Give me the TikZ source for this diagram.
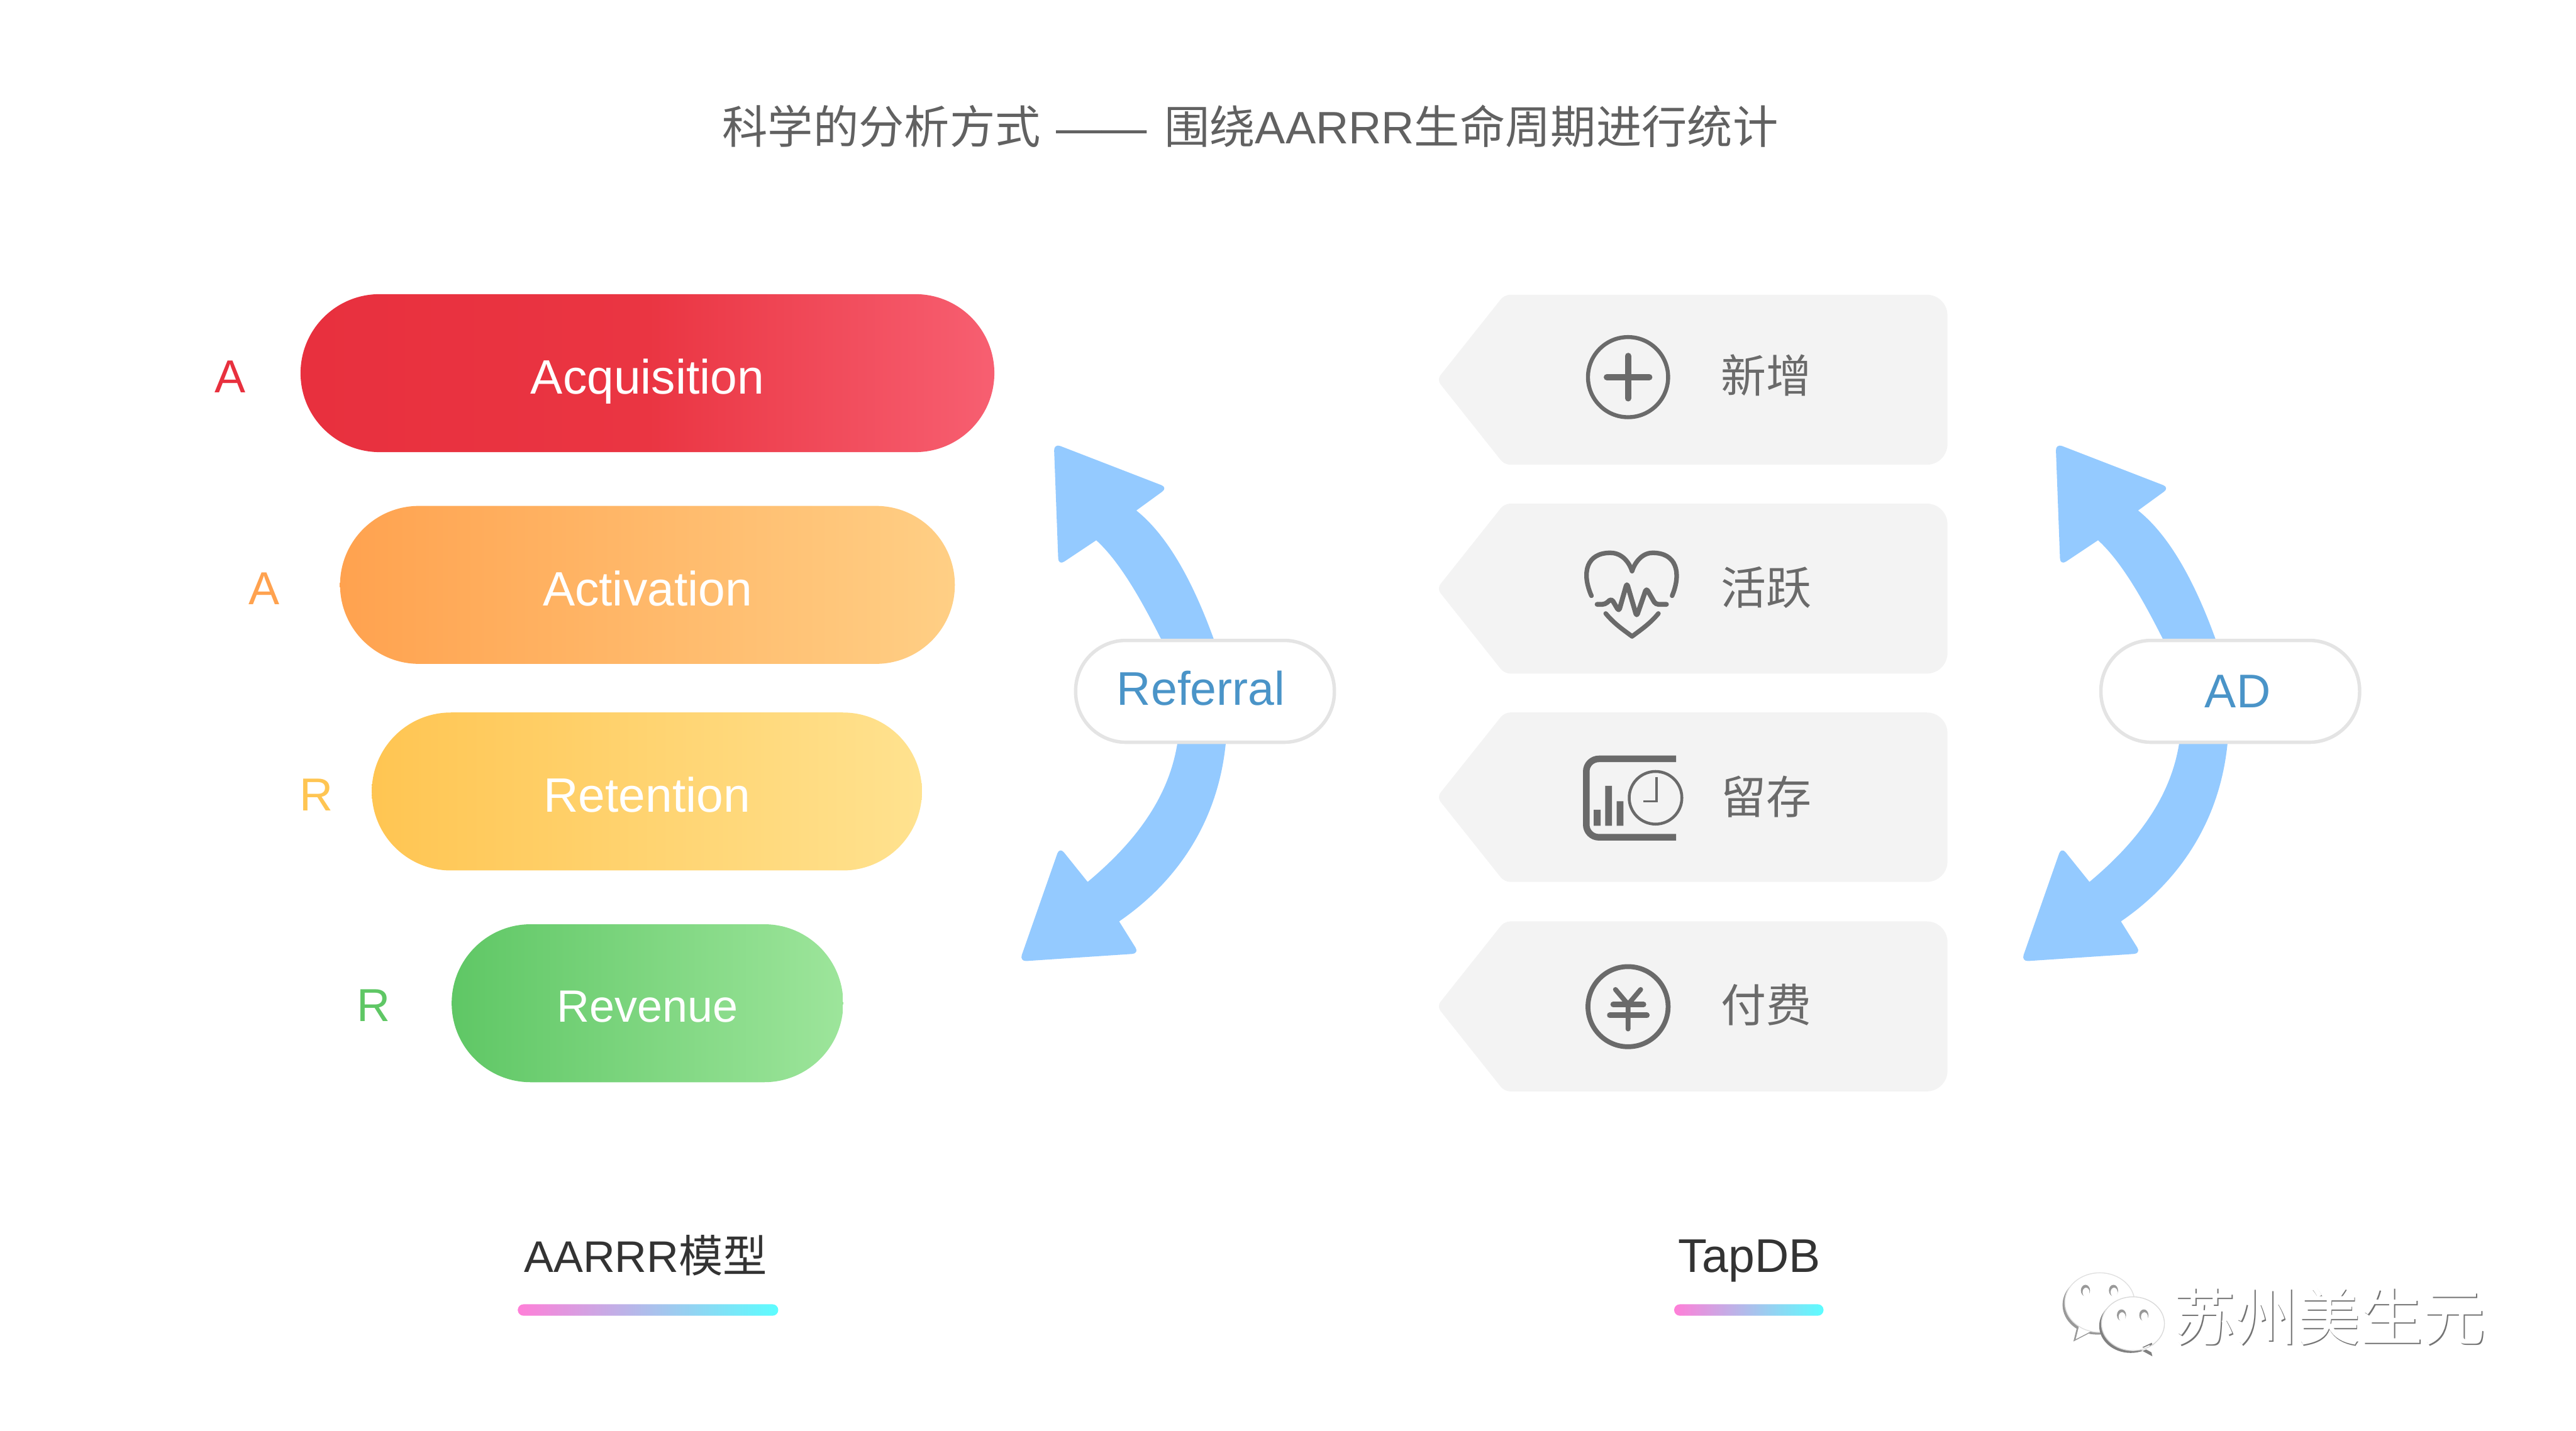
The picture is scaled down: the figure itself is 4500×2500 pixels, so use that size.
\documentclass[tikz,border=0pt]{standalone}
\usepackage{fontspec}
\setmainfont{Liberation Sans}
\newfontfamily\cjk{Noto Sans CJK SC}
\definecolor{acqred}{HTML}{E8303E}
\definecolor{acqmid}{HTML}{EA3542}
\definecolor{acqend}{HTML}{F75F71}
\definecolor{actleft}{HTML}{FFA24F}
\definecolor{actright}{HTML}{FFCF85}
\definecolor{retleft}{HTML}{FFC552}
\definecolor{retright}{HTML}{FFE28F}
\definecolor{revleft}{HTML}{5FC765}
\definecolor{revright}{HTML}{9DE59B}
\definecolor{swooshblue}{HTML}{94CAFF}
\definecolor{pillline}{HTML}{E4E4E4}
\definecolor{referblue}{HTML}{4A94C8}
\definecolor{tagbox}{HTML}{F3F3F3}
\definecolor{icongray}{HTML}{6A6A6A}
\definecolor{barpink}{HTML}{FF7FD8}
\definecolor{barcyan}{HTML}{5CFDFF}

\begin{document}
\begin{tikzpicture}[x=0.1mm,y=-0.1mm]
    \tikzstyle{every node}=[inner sep=0pt]
    \tikzstyle{big}=[font=\fontsize{24}{28}\selectfont]
    \tikzstyle{pill}=[big,text=white,rounded corners=13.8mm,minimum height=27.6mm,text height=7.2mm,text depth=0mm]
    \tikzstyle{letter}=[font=\fontsize{23}{28}\selectfont]
    \tikzstyle{tagtext}=[font=\cjk\fontsize{22.5}{28}\selectfont,text=icongray]
    \tikzstyle{cycletag}=[font=\fontsize{23.5}{28}\selectfont,text=referblue,fill=white,draw=pillline,line width=0.6mm,rounded corners=8.8mm,minimum width=45.2mm,minimum height=17.8mm]
    \tikzstyle{caption}=[font=\fontsize{22.5}{28}\selectfont,text=black!80,text height=7mm,text depth=0.95mm]
    \tikzstyle{underbar}=[left color=barpink,right color=barcyan,rounded corners=1mm,minimum height=2mm]
    \tikzstyle{icon}=[draw=icongray,line width=0.7mm,line cap=round,line join=round]
    \useasboundingbox (0,0) rectangle (4500,2500);

    \node[font=\fontsize{22.6}{28}\selectfont,text=black!62] (title) at (2184,221)
      {{\cjk 科学的分析方式}\hspace{0.5mm} —— \hspace{0.8mm}{\cjk 围绕}AARRR{\cjk 生命周期进行统计}};

    \node[pill,left color=acqred,right color=acqend,middle color=acqmid,minimum width=121.2mm] (acquisition) at (1131,652) {Acquisition};
    \node[pill,left color=actleft,right color=actright,minimum width=107.4mm] (activation) at (1131,1022) {Activation};
    \node[pill,left color=retleft,right color=retright,minimum width=96.1mm] (retention) at (1130,1383) {Retention};
    \node[pill,left color=revleft,right color=revright,minimum width=68.4mm,font=\fontsize{22.5}{28}\selectfont,text height=6.6mm] (revenue) at (1131,1753) {Revenue};

    \node[letter,text=acqred] (acqletter) at (402,658) {A};
    \node[letter,text=actleft] (actletter) at (461,1028) {A};
    \node[letter,text=retleft] (retletter) at (553,1389) {R};
    \node[letter,text=revleft] (revletter) at (653,1757) {R};

    \foreach \dx in {0,1750} {
      \begin{scope}[shift={(\dx,0)}]
        \fill[swooshblue] (1915,944) [rounded corners=1.2mm] -- (1849,988) -- (1841,775) -- (2040,852)
          [sharp corners] -- (1985,892) .. controls (2045,940) and (2090,1030) .. (2125,1130)
          -- (2035,1130) .. controls (2000,1060) and (1960,985) .. (1915,944) -- cycle;
        \fill[swooshblue] (1900,1541) [rounded corners=1.2mm] -- (1851,1480) -- (1781,1680) -- (1990,1666)
          [sharp corners] -- (1955,1610) .. controls (2050,1545) and (2130,1440) .. (2142,1290)
          -- (2058,1290) .. controls (2045,1390) and (1985,1470) .. (1900,1541) -- cycle;
      \end{scope}
    }
    \node[cycletag,text depth=1.2mm] (referral) at (2105,1208) {Referral\kern1.4mm};
    \node[cycletag] (ad) at (3896,1208) {\hspace{2.6mm}AD};

    \foreach \yt/\yb in {515/812,880/1177,1245/1541,1610/1907} {
      \fill[tagbox] [rounded corners=1mm] (2628,\yt) [rounded corners=3.6mm] -- (3402,\yt) -- (3402,\yb)
        [rounded corners=1mm] -- (2628,\yb) -- (2510,{(\yt+\yb)/2}) -- cycle;
    }
    \node[tagtext] (newtag) at (3085,656) {新增};
    \node[tagtext] (activetag) at (3085,1027) {活跃};
    \node[tagtext] (keeptag) at (3085,1392) {留存};
    \node[tagtext] (paytag) at (3085,1756) {付费};

    \draw[icon] (2844,659) circle (7mm);
    \draw[icon,line width=1.1mm] (2807,659) -- (2881,659) (2844,622) -- (2844,696);

    \draw[icon,line width=0.8mm] (2780,1041) .. controls (2762,1000) and (2772,966) .. (2813,966)
      .. controls (2835,966) and (2847,985) .. (2851,998)
      .. controls (2855,985) and (2867,966) .. (2887,966)
      .. controls (2928,966) and (2938,1000) .. (2921,1041);
    \draw[icon,line width=0.8mm] (2805,1072) .. controls (2820,1090) and (2835,1100) .. (2851,1112)
      .. controls (2867,1100) and (2882,1090) .. (2897,1072);
    \draw[icon,line width=0.85mm,rounded corners=0.5mm] (2790,1056) -- (2804,1056) -- (2815,1046) -- (2828,1068) -- (2842,1019) -- (2859,1077)
      -- (2876,1028) -- (2892,1056) -- (2911,1056);

    \draw[icon,line width=1.15mm,line cap=butt,rounded corners=2.2mm] (2928,1326) -- (2771,1326) -- (2771,1463) -- (2928,1463);
    \draw[icon,line width=0.5mm] (2892,1394) ellipse (4.6mm and 4.6mm);
    \draw[icon,line width=0.4mm,line cap=butt,line join=miter] (2894,1358) -- (2894,1400) -- (2871,1400);
    \fill[icongray] (2784,1415) rectangle (2796,1443) (2804,1373) rectangle (2816,1443) (2824,1400) rectangle (2836,1443);

    \draw[icon,line width=0.85mm] (2844,1759) circle (7mm);
    \draw[icon,line width=0.85mm] (2822,1729) -- (2844,1755) -- (2866,1729) (2844,1755) -- (2844,1798);
    \draw[icon,line width=0.95mm] (2818,1755) -- (2871,1755) (2812,1774) -- (2877,1774);

    \node[caption,font=\fontsize{22}{28}\selectfont] (aarrrname) at (1128,2193) {AARRR{\cjk 模型}};
    \node[underbar,minimum width=45.5mm] (aarrrbar) at (1132,2289) {};
    \node[caption,font=\fontsize{23.5}{28}\selectfont] (tapdbname) at (3056,2193) {TapDB};
    \node[underbar,minimum width=26.1mm] (tapdbbar) at (3055,2289) {};

    \foreach \ox/\oy/\tint in {-4/4/black!40,0/0/white} {
      \begin{scope}[shift={(\ox,\oy)}]
        \fill[\tint] (3668,2276) ellipse (6.1mm and 5.2mm) (3632,2316) -- (3626,2340) -- (3653,2326) -- cycle;
      \end{scope}
    }
    \draw[black!12,line width=0.15mm] (3668,2276) ellipse (6.1mm and 5.2mm);
    \foreach \ox/\oy/\tint in {-4/4/black!50,0/0/white} {
      \begin{scope}[shift={(\ox,\oy)}]
        \fill[\tint] (3726,2313) ellipse (5.5mm and 4.7mm) (3759,2346) -- (3764,2366) -- (3742,2354) -- cycle;
      \end{scope}
    }
    \draw[black!15,line width=0.15mm] (3726,2313) ellipse (5.5mm and 4.7mm);
    \foreach \ex/\ey in {3643/2255,3692/2255,3706/2298,3745/2298} {
      \fill[black!40] (\ex,\ey) ellipse (0.8mm and 1mm);
      \fill[white] (\ex+1,\ey+3) ellipse (0.6mm and 0.8mm);
    }
    \node[font=\cjk\fontsize{31}{36}\selectfont,text=black!55] (markshade) at (4071,2302) {苏州美生元};
    \node[font=\cjk\fontsize{31}{36}\selectfont,text=white] (marktext) at (4069,2300) {苏州美生元};
\end{tikzpicture}
\end{document}
